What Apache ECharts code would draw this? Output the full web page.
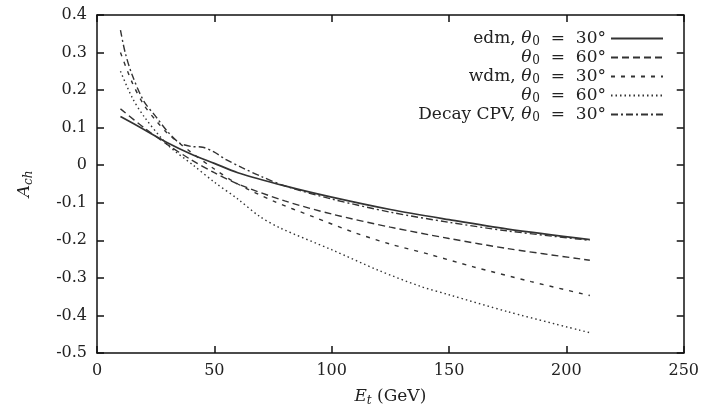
<!DOCTYPE html>
<html>
<head>
<meta charset="utf-8">
<script src="https://cdn.jsdelivr.net/npm/echarts@6/dist/echarts.min.js"></script>
<style>html,body{margin:0;padding:0;background:#fff}#c{width:702px;height:418px}</style>
</head>
<body>
<div id="c"></div>
<script>
// Data
const xTicks = [0, 50, 100, 150, 200, 250];
const yTicks = [-0.5, -0.4, -0.3, -0.2, -0.1, 0, 0.1, 0.2, 0.3, 0.4];

const edm30E = [10, 20, 30, 40, 50, 60, 80, 100, 125, 150, 175, 210];
const edm30A = [0.13, 0.095, 0.06, 0.03, 0.005, -0.02, -0.055, -0.085, -0.118, -0.145, -0.17, -0.198];

const edm60E = [10, 20, 30, 40, 50, 60, 80, 100, 125, 150, 175, 210];
const edm60A = [0.15, 0.10, 0.055, 0.015, -0.02, -0.05, -0.095, -0.13, -0.165, -0.195, -0.222, -0.253];

const wdm30E = [10, 15, 20, 25, 30, 40, 50, 60, 75, 92, 110, 125, 142, 160, 185, 210];
const wdm30A = [0.30, 0.22, 0.16, 0.12, 0.085, 0.035, -0.01, -0.05, -0.095, -0.137, -0.18, -0.21, -0.238, -0.27, -0.31, -0.347];

const wdm60E = [10, 15, 20, 30, 41, 50, 60, 69, 78, 100, 120, 138, 150, 175, 210];
const wdm60A = [0.25, 0.18, 0.13, 0.055, 0.0, -0.045, -0.09, -0.135, -0.167, -0.225, -0.28, -0.323, -0.345, -0.39, -0.446];

const cpvE = [10, 12, 15, 20, 25, 30, 35, 40, 45, 50, 55, 62, 70, 80, 100, 125, 150, 175, 210];
const cpvA = [0.36, 0.30, 0.24, 0.17, 0.13, 0.09, 0.06, 0.05, 0.048, 0.035, 0.015, -0.007, -0.03, -0.055, -0.09, -0.125, -0.152, -0.175, -0.2];

const seriesNames = ['edm30', 'edm60', 'wdm30', 'wdm60', 'cpv'];
const legendPrefix = ['edm, ', '', 'wdm, ', '', 'Decay CPV, '];
const legendAngle = ['30°', '60°', '30°', '60°', '30°'];

function pairs(xs, ys) { return xs.map((x, i) => [x, ys[i]]); }

const FONT = 'DejaVu Serif';
const INK = '#222';
const LINE = '#333';

const chart = echarts.init(document.getElementById('c'), null, {renderer: 'canvas'});

const styles = [
  {type: 'solid', width: 1.7},
  {type: [7, 4], width: 1.4},
  {type: [4, 6], width: 1.4},
  {type: [1.5, 3], width: 1.4},
  {type: [7, 3, 2, 3], width: 1.4}
];
const dataSets = [pairs(edm30E, edm30A), pairs(edm60E, edm60A), pairs(wdm30E, wdm30A), pairs(wdm60E, wdm60A), pairs(cpvE, cpvA)];

const series = seriesNames.map((n, i) => ({
  name: n, type: 'line', data: dataSets[i], smooth: 0.3, symbol: 'none', showSymbol: false,
  xAxisIndex: 0, yAxisIndex: 0,
  lineStyle: Object.assign({color: LINE}, styles[i]),
  itemStyle: {color: LINE}
}));

const rich = {
  n: {fontFamily: FONT, fontSize: 17, color: INK},
  i: {fontFamily: FONT, fontSize: 17, color: INK, fontStyle: 'italic'},
  s: {fontFamily: FONT, fontSize: 12, color: INK, verticalAlign: 'bottom', padding: [7, 0, 0, 1]}
};
const rowTops = [30, 49, 68, 87, 106];
const legends = seriesNames.map((n, i) => ({
  data: [n], orient: 'vertical', right: 38, top: rowTops[i], align: 'right',
  itemWidth: 52, itemHeight: 14, padding: 0,
  itemStyle: {opacity: 0},
  textStyle: {fontFamily: FONT, fontSize: 17, color: INK, rich: rich},
  formatter: () => '{n|' + legendPrefix[i] + '}{i|θ}{s|0}{n|  =  ' + legendAngle[i] + '}'
}));

const axisLine = {show: true, onZero: false, lineStyle: {color: '#111', width: 1.5}};
const tick = {show: true, inside: true, length: 7, lineStyle: {color: '#111', width: 1.5}};
const labelFont = {fontFamily: FONT, fontSize: 16, color: INK};

const option = {
  animation: false,
  backgroundColor: '#fff',
  grid: {left: 97, right: 18, top: 15, bottom: 65, containLabel: false},
  legend: legends,
  xAxis: [{
    type: 'value', min: 0, max: 250, interval: 50, position: 'bottom',
    axisLine: axisLine, axisTick: tick, splitLine: {show: false},
    axisLabel: Object.assign({margin: 10}, labelFont),
    name: '{i|E}{s|t}{n| (GeV)}', nameLocation: 'middle', nameGap: 34,
    nameTextStyle: {rich: {
      i: {fontFamily: FONT, fontSize: 17, color: INK, fontStyle: 'italic'},
      s: {fontFamily: FONT, fontSize: 12, color: INK, fontStyle: 'italic', verticalAlign: 'bottom', padding: [8, 0, 0, 0]},
      n: {fontFamily: FONT, fontSize: 17, color: INK}
    }}
  }, {
    type: 'value', min: 0, max: 250, interval: 50, position: 'top',
    axisLine: axisLine, axisTick: tick, splitLine: {show: false}, axisLabel: {show: false}
  }],
  yAxis: [{
    type: 'value', min: -0.5, max: 0.4, interval: 0.1, position: 'left',
    axisLine: axisLine, axisTick: tick, splitLine: {show: false},
    axisLabel: Object.assign({margin: 10, formatter: v => String(Math.round(v * 10) / 10)}, labelFont),
    name: '{i|A}{s|ch}', nameLocation: 'middle', nameGap: 62, nameRotate: 90,
    nameTextStyle: {rich: {
      i: {fontFamily: FONT, fontSize: 17, color: INK, fontStyle: 'italic'},
      s: {fontFamily: FONT, fontSize: 12, color: INK, fontStyle: 'italic', verticalAlign: 'bottom', padding: [8, 0, 0, 0]}
    }}
  }, {
    type: 'value', min: -0.5, max: 0.4, interval: 0.1, position: 'right',
    axisLine: axisLine, axisTick: tick, splitLine: {show: false}, axisLabel: {show: false}
  }],
  series: series
};
chart.setOption(option);
</script>
</body>
</html>
